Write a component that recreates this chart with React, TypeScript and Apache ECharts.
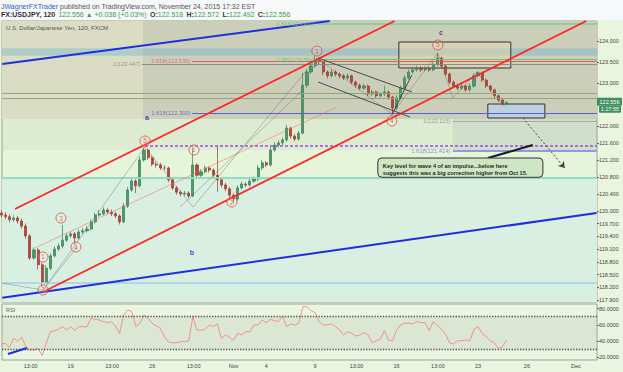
import React, { useEffect, useRef } from 'react';
import * as echarts from 'echarts';

// ---------- time scale: trading days counted from Mon 19 Oct 2015 00:00 ----------
const candleStartDay = -4.25;
const candleStepDays = 0.25; // 6-hour candles

const opens = [
  119.95, 119.90, 119.86, 119.79, 119.83, 119.76, 119.64, 119.41, 118.89, 119.08,
  118.73, 118.32, 118.65, 118.94, 119.10, 119.17, 119.31, 119.41, 119.46, 119.36,
  119.50, 119.53, 119.57, 119.74, 119.90, 119.93, 120.02, 119.97, 119.93, 119.88,
  119.74, 120.11, 120.49, 120.70, 120.59, 121.20, 121.43, 121.25, 121.10, 121.08,
  121.01, 121.01, 120.73, 120.54, 120.44, 120.40, 120.42, 120.35, 121.08, 120.84,
  120.92, 121.01, 120.96, 120.84, 120.73, 120.61, 120.52, 120.37, 120.28, 120.54,
  120.63, 120.61, 120.70, 120.75, 121.01, 121.13, 121.08, 121.43, 121.55, 121.60,
  121.67, 121.95, 121.76, 121.69, 121.83, 122.96, 123.27, 123.41, 123.55, 123.51,
  123.27, 123.18, 123.27, 123.22, 123.18, 123.13, 123.18, 123.03, 122.96, 122.89,
  122.94, 122.75, 122.80, 122.71, 122.75, 122.80, 122.68, 122.42, 122.66, 122.89,
  123.13, 123.27, 123.32, 123.36, 123.32, 123.34, 123.32, 123.44, 123.60, 123.41,
  123.22, 123.03, 122.94, 122.89, 122.94, 122.85, 122.94, 123.18, 123.25, 123.08,
  122.94, 122.85, 122.71, 122.61, 122.52,
];
const closes = [
  119.90, 119.86, 119.79, 119.83, 119.76, 119.64, 119.41, 118.89, 119.08, 118.73,
  118.32, 118.65, 118.94, 119.10, 119.17, 119.31, 119.41, 119.46, 119.36, 119.50,
  119.53, 119.57, 119.74, 119.90, 119.93, 120.02, 119.97, 119.93, 119.88, 119.74,
  120.11, 120.49, 120.70, 120.59, 121.20, 121.43, 121.25, 121.10, 121.08, 121.01,
  121.01, 120.73, 120.54, 120.44, 120.40, 120.42, 120.35, 121.08, 120.84, 120.92,
  121.01, 120.96, 120.84, 120.73, 120.61, 120.52, 120.37, 120.28, 120.54, 120.63,
  120.61, 120.70, 120.75, 121.01, 121.13, 121.08, 121.43, 121.55, 121.60, 121.67,
  121.95, 121.76, 121.69, 121.83, 122.96, 123.27, 123.41, 123.55, 123.51, 123.27,
  123.18, 123.27, 123.22, 123.18, 123.13, 123.18, 123.03, 122.96, 122.89, 122.94,
  122.75, 122.80, 122.71, 122.75, 122.80, 122.68, 122.42, 122.66, 122.89, 123.13,
  123.27, 123.32, 123.36, 123.32, 123.34, 123.32, 123.44, 123.60, 123.41, 123.22,
  123.03, 122.94, 122.89, 122.94, 122.85, 122.94, 123.18, 123.25, 123.08, 122.94,
  122.85, 122.71, 122.61, 122.52, 122.56,
];
const lows = [
  119.84, 119.80, 119.73, 119.74, 119.70, 119.58, 119.34, 118.84, 118.85, 118.62,
  118.21, 118.30, 118.60, 118.90, 119.05, 119.12, 119.27, 119.37, 119.20, 119.32,
  119.45, 119.49, 119.54, 119.70, 119.86, 119.89, 119.92, 119.88, 119.83, 119.68,
  119.71, 120.07, 120.45, 120.42, 120.55, 121.16, 121.20, 121.05, 121.02, 120.96,
  120.95, 120.68, 120.49, 120.38, 120.34, 120.35, 120.30, 120.32, 120.78, 120.80,
  120.88, 120.90, 120.79, 120.45, 120.55, 120.46, 120.31, 120.18, 120.24, 120.50,
  120.56, 120.57, 120.66, 120.70, 120.96, 121.03, 121.04, 121.39, 121.50, 121.55,
  121.63, 121.70, 121.64, 121.65, 121.80, 122.90, 123.22, 123.37, 123.45, 123.20,
  123.12, 123.14, 123.16, 123.12, 123.08, 123.09, 122.98, 122.90, 122.84, 122.85,
  122.70, 122.71, 122.66, 122.67, 122.71, 122.62, 122.28, 122.38, 122.62, 122.85,
  123.09, 123.23, 123.28, 123.27, 123.28, 123.27, 123.29, 123.40, 123.36, 123.17,
  122.98, 122.89, 122.84, 122.85, 122.80, 122.81, 122.90, 123.14, 123.03, 122.89,
  122.80, 122.66, 122.56, 122.49, 122.49,
];
const highs = [
  120.02, 119.97, 119.92, 119.90, 119.88, 119.82, 119.70, 119.45, 119.14, 119.12,
  118.78, 118.72, 119.00, 119.16, 119.24, 119.67, 119.48, 119.52, 119.50, 119.56,
  119.60, 119.64, 119.80, 119.96, 120.02, 120.08, 120.06, 120.03, 119.98, 119.92,
  120.18, 120.56, 120.76, 120.74, 121.28, 121.50, 121.46, 121.30, 121.16, 121.13,
  121.08, 121.04, 120.77, 120.58, 120.48, 120.47, 120.46, 121.48, 121.12, 120.98,
  121.07, 121.05, 121.00, 121.53, 120.78, 120.66, 120.56, 120.41, 120.60, 120.69,
  120.67, 120.76, 120.81, 121.08, 121.19, 121.17, 121.50, 121.61, 121.66, 121.73,
  122.02, 121.98, 121.80, 121.88, 123.25, 123.33, 123.47, 123.65, 123.60, 123.54,
  123.31, 123.33, 123.31, 123.26, 123.22, 123.23, 123.21, 123.07, 123.00, 122.99,
  122.97, 122.85, 122.83, 122.79, 122.94, 122.83, 122.71, 122.72, 122.95, 123.19,
  123.33, 123.38, 123.42, 123.40, 123.40, 123.38, 123.50, 123.72, 123.63, 123.45,
  123.26, 123.07, 122.98, 123.00, 122.97, 123.00, 123.24, 123.29, 123.27, 123.12,
  122.97, 122.88, 122.74, 122.64, 122.57,
];
const rsiValues = [
  36.2, 37.0, 32.1, 43.2, 39.9, 44.4, 32.9, 28.8, 28.8, 30.8,
  22.0, 37.0, 51.5, 52.7, 54.4, 57.7, 53.5, 57.7, 52.7, 57.7,
  57.7, 57.7, 68.0, 66.7, 65.9, 63.9, 62.6, 63.9, 58.5, 49.4,
  72.1, 78.3, 76.2, 57.7, 61.8, 72.1, 68.0, 61.8, 58.5, 55.6,
  45.3, 39.1, 37.8, 37.8, 39.1, 39.1, 40.3, 70.0, 53.5, 53.5,
  54.4, 59.7, 57.7, 61.0, 43.2, 47.3, 44.4, 41.1, 49.4, 47.3,
  51.5, 51.5, 59.7, 59.7, 65.9, 62.6, 66.7, 65.1, 63.9, 70.9,
  57.7, 61.0, 59.7, 61.8, 82.4, 82.4, 77.5, 75.0, 63.9, 59.7,
  59.7, 61.0, 57.7, 53.5, 47.3, 51.5, 49.4, 46.1, 47.3, 50.2,
  47.3, 37.8, 40.3, 42.0, 52.7, 41.1, 40.3, 53.5, 59.7, 61.8,
  61.8, 61.0, 63.9, 62.6, 62.6, 52.7, 63.9, 59.7, 54.4, 48.6,
  37.8, 36.2, 40.3, 40.3, 41.1, 40.3, 54.4, 57.7, 49.4, 45.3,
  40.3, 37.8, 30.8, 32.9, 41.1,
];

// ---------- axes ----------
const X_MIN = -4.215;
const X_MAX = 32.3;
const Y_MIN = 117.853;
const Y_MAX = 124.471;
const RSI_MIN = 16.4;
const RSI_MAX = 85.7;
const xTickDays = [-2.458, 0, 2.542, 5, 7.542, 10, 12, 15, 17.542, 20, 22.542, 25, 28, 31];
const xTickLabels = ['13:00', '19', '13:00', '26', '13:00', 'Nov', '4', '9', '13:00', '16', '13:00', '23', '26', 'Dec'];
const yTickValues = [124.0, 123.5, 123.0, 122.0, 121.6, 121.2, 120.8, 120.4, 120.0, 119.7, 119.4, 119.1, 118.8, 118.5, 118.2, 117.9];
const rsiTickValues = [20, 40, 60, 80];
const rsiBands = [30, 70];

// ---------- annotations (data units: day, price) ----------
const levelPrices = [120.773, 118.31, 122.775, 122.658, 123.447, 123.53, 123.564, 124.40, 122.3, 122.115, 121.414, 121.527];
const levelStartDays = [X_MIN, X_MIN, X_MIN, X_MIN, 4.38, 7.45, 15.11, 15.11, 7.45, 23.45, 23.45, 4.56];

const waveDays = [-1.70, -1.70, -0.595, 0.325, 4.558, 7.564, 9.896, 15.11, 19.71, 22.53];
const wavePrices = [118.136, 118.913, 119.831, 119.148, 121.645, 121.433, 120.208, 123.764, 122.116, 123.906];
const waveTexts = ['2', '1', '3', '4', '5', '1', '2', '3', '4', '5'];

const letterDays = [4.68, 7.44, 22.72];
const letterPrices = [122.21, 119.03, 124.19];
const letterTexts = ['a', 'b', 'c'];

const fibTexts = ['1(123.447)', '2.618(123.530)', '0.382(123.564)', '0.618(124.493)', '1.618(122.300)', '1(122.115)', '1.618(121.414)'];
const fibDays = [4.38, 7.45, 15.11, 15.11, 7.45, 23.4, 23.4];
const fibPrices = [123.447, 123.53, 123.564, 124.40, 122.3, 122.115, 121.414];

const boxA = [20.14, 123.364, 27.01, 123.976];
const boxB = [25.6, 122.187, 29.1, 122.516];
const calloutBox = [18.85, 121.244, 28.98, 120.79];
const calloutLines = ['Key level for wave 4 of an impulse...below here', 'suggests this was a big correction higher from Oct 15.'];
const lastPrice = 122.556;

const FONT = '"Liberation Sans", Arial, sans-serif';

export default function App() {
  const ref = useRef<HTMLDivElement>(null);

  useEffect(() => {
    const chart = echarts.init(ref.current!, null, { renderer: 'svg' });
    const n = Math.min(opens.length, closes.length, lows.length, highs.length);
    const candleData: number[][] = [];
    for (let i = 0; i < n; i++) {
      candleData.push([candleStartDay + i * candleStepDays, opens[i], closes[i], lows[i], highs[i]]);
    }
    const rsiData = rsiValues.map((v, i) => [candleStartDay + i * candleStepDays, v]);

    const seg = (a: number[], b: number[], style: any, extraEnd?: any) => [
      { coord: a, symbol: 'none' },
      Object.assign({ coord: b, symbol: 'none', lineStyle: style }, extraEnd || {}),
    ];

    const levelStyles = [
      { color: '#97dbbd', width: 2 },
      { color: '#9fd0e6', width: 1.5 },
      { color: '#93a677', width: 1 },
      { color: '#93a677', width: 1 },
      { color: '#8c8c8c', width: 1 },
      { color: '#e45858', width: 1 },
      { color: '#6cc27f', width: 1 },
      { color: '#7ccf92', width: 1.5 },
      { color: '#5563d2', width: 1 },
      { color: '#a6a6a6', width: 1 },
      { color: '#8c9be0', width: 2 },
      { color: '#9b4ee8', width: 1.5, type: [3, 2] },
    ];
    const levelLines = levelPrices.map((p, i) =>
      seg([levelStartDays[i], p], [X_MAX, p], Object.assign({ type: 'solid' }, levelStyles[i])),
    );

    const blue = { color: '#1f2fe0', width: 2, type: 'solid' };
    const red = { color: '#ff2626', width: 1.8, type: 'solid' };
    const gray = { color: 'rgba(90,90,90,0.45)', width: 0.8, type: 'solid' };
    const dark = { color: '#4a4a4a', width: 1, type: 'solid' };

    const trendLines = [
      seg([-4.2, 123.458], [15.9, 124.47], blue),
      seg([-4.2, 117.955], [32.28, 119.949], blue),
      seg([-3.417, 120.043], [19.88, 124.47], red),
      seg([-1.699, 118.089], [31.64, 124.47], red),
      seg([-2.19, 119.125], [16.34, 122.446], { color: 'rgba(235,120,100,0.55)', width: 1, type: 'solid' }),
      seg([15.18, 123.6], [20.94, 122.8], dark),
      seg([15.18, 123.034], [20.82, 122.21], dark),
      seg([19.71, 122.257], [20.94, 123.199], dark),
      seg([-4.2, 118.294], [-1.7, 118.136], gray),
      seg([-1.7, 118.136], [4.56, 121.504], gray),
      seg([-1.7, 118.136], [0.39, 119.148], gray),
      seg([4.56, 121.504], [7.51, 120.09], gray),
      seg([7.51, 120.09], [15.11, 123.6], gray),
      seg([6.72, 120.09], [14.25, 122.846], gray),
      seg([15.11, 123.6], [19.71, 122.281], gray),
      seg([19.71, 122.281], [22.53, 123.717], gray),
      seg([22.53, 123.717], [23.45, 122.658], gray),
      seg([23.45, 122.658], [24.93, 123.27], gray),
      seg([24.93, 123.27], [26.64, 122.446], gray),
      seg([25.6, 121.244], [28.36, 121.55], { color: '#1a1a1a', width: 2, type: 'solid' }),
      seg([27.75, 122.187], [30.32, 121.009], { color: '#444', width: 1, type: [2, 2] }, { symbol: 'arrow', symbolSize: 6 }),
    ];

    const zoneArea = (x1: number, y1: number, x2: number, y2: number, color: string) => [
      { coord: [x1, y1], itemStyle: { color } },
      { coord: [x2, y2] },
    ];
    const zones = [
      zoneArea(X_MIN, Y_MIN, X_MAX, 120.773, '#d9efe2'),
      zoneArea(X_MIN, 121.43, X_MAX, 122.163, 'rgba(150,165,150,0.10)'),
      zoneArea(X_MIN, 122.163, X_MAX, Y_MAX, '#dadcc3'),
      zoneArea(4.44, 122.163, X_MAX, Y_MAX, 'rgba(110,120,135,0.13)'),
      zoneArea(X_MIN, 123.65, X_MAX, 123.83, 'rgba(120,180,205,0.42)'),
      zoneArea(23.45, 121.43, X_MAX, 122.163, 'rgba(140,150,165,0.14)'),
    ];
    const boxes = [
      [
        { coord: [boxA[0], boxA[1]], itemStyle: { color: 'rgba(232,216,168,0.45)', borderColor: '#333', borderWidth: 1 } },
        { coord: [boxA[2], boxA[3]] },
      ],
      [
        { coord: [boxB[0], boxB[1]], itemStyle: { color: 'rgba(185,208,232,0.75)', borderColor: '#333', borderWidth: 1 } },
        { coord: [boxB[2], boxB[3]] },
      ],
    ];

    const fibColors = ['#8a8a8a', '#e05555', '#5fb873', '#5fb873', '#4a5ad0', '#8a8a8a', '#6a7ad8'];
    const noLine = { show: false, onZero: false };

    const option: any = {
      animation: false,
      backgroundColor: 'transparent',
      textStyle: { fontFamily: FONT },
      grid: [
        { left: 2, top: 21, width: 595, height: 281, show: true, backgroundColor: '#e6f4d9', borderColor: '#9aa39a', borderWidth: 1 },
        { left: 2, top: 304, width: 595, height: 56, show: true, backgroundColor: '#eaf6df', borderColor: '#9aa39a', borderWidth: 1 },
      ],
      xAxis: [
        { type: 'value', gridIndex: 0, min: X_MIN, max: X_MAX, axisLine: noLine, axisTick: { show: false }, axisLabel: { show: false }, splitLine: { show: false } },
        {
          type: 'value', gridIndex: 1, min: X_MIN, max: X_MAX, position: 'bottom',
          axisLine: noLine, axisTick: { show: false }, splitLine: { show: false },
          axisLabel: {
            show: true, customValues: xTickDays, fontSize: 5.5, color: '#444', margin: 3, fontFamily: FONT,
            formatter: (v: number) => {
              const idx = xTickDays.findIndex((d) => Math.abs(d - v) < 1e-6);
              return idx >= 0 ? xTickLabels[idx] : '';
            },
          },
        },
      ],
      yAxis: [
        {
          type: 'value', gridIndex: 0, position: 'right', min: Y_MIN, max: Y_MAX,
          axisLine: noLine, splitLine: { show: false },
          axisTick: { show: true, customValues: yTickValues, length: 2, lineStyle: { color: '#666' } },
          axisLabel: { customValues: yTickValues, formatter: (v: number) => v.toFixed(3), fontSize: 5.5, color: '#444', margin: 2, fontFamily: FONT },
        },
        {
          type: 'value', gridIndex: 1, position: 'right', min: RSI_MIN, max: RSI_MAX,
          axisLine: noLine, splitLine: { show: false },
          axisTick: { show: true, customValues: rsiTickValues, length: 2, lineStyle: { color: '#666' } },
          axisLabel: { customValues: rsiTickValues, formatter: (v: number) => v.toFixed(4), fontSize: 5.5, color: '#444', margin: 2, fontFamily: FONT },
        },
      ],
      series: [
        {
          name: 'zones', type: 'line', xAxisIndex: 0, yAxisIndex: 0, data: [], silent: true,
          markArea: { silent: true, z: 1, data: zones },
        },
        {
          name: 'boxes', type: 'line', xAxisIndex: 0, yAxisIndex: 0, data: [], silent: true,
          markArea: { silent: true, z: 1.5, data: boxes },
        },
        {
          name: 'USDJPY', type: 'candlestick', xAxisIndex: 0, yAxisIndex: 0, z: 2,
          encode: { x: 0, y: [1, 2, 3, 4] },
          data: candleData, barWidth: 2.6,
          itemStyle: { color: '#4b9a6a', color0: '#b4473b', borderColor: '#3a7d55', borderColor0: '#9a3a30', borderWidth: 0.7 },
        },
        {
          name: 'levels', type: 'line', xAxisIndex: 0, yAxisIndex: 0, data: [], silent: true,
          markLine: { silent: true, z: 3, symbol: ['none', 'none'], label: { show: false }, data: levelLines.concat(trendLines) },
        },
        {
          name: 'waves', type: 'scatter', xAxisIndex: 0, yAxisIndex: 0, z: 6, silent: true,
          symbol: 'circle', symbolSize: 10,
          itemStyle: { color: 'rgba(255,255,255,0.15)', borderColor: '#e0453a', borderWidth: 1 },
          label: { show: true, position: 'inside', color: '#e0453a', fontSize: 6.5, fontFamily: FONT },
          data: waveDays.map((d, i) => ({ value: [d, wavePrices[i]], label: { formatter: waveTexts[i] } })),
        },
        {
          name: 'letters', type: 'scatter', xAxisIndex: 0, yAxisIndex: 0, z: 6, silent: true,
          symbolSize: 1, itemStyle: { color: 'rgba(0,0,0,0)' },
          label: { show: true, position: 'inside', color: '#2222b8', fontSize: 7, fontWeight: 'bold', fontFamily: FONT },
          data: letterDays.map((d, i) => ({ value: [d, letterPrices[i]], label: { formatter: letterTexts[i] } })),
        },
        {
          name: 'fibLabels', type: 'scatter', xAxisIndex: 0, yAxisIndex: 0, z: 6, silent: true,
          symbolSize: 1, itemStyle: { color: 'rgba(0,0,0,0)' },
          label: { show: true, position: 'left', distance: 1, fontSize: 5.8, fontFamily: FONT },
          data: fibDays.map((d, i) => ({ value: [d, fibPrices[i]], label: { formatter: fibTexts[i], color: fibColors[i] } })),
        },
        {
          name: 'RSI', type: 'line', xAxisIndex: 1, yAxisIndex: 1, data: rsiData, symbol: 'none', z: 3,
          lineStyle: { color: '#ee8a88', width: 0.9 },
          markArea: {
            silent: true, z: 1,
            data: [[{ coord: [X_MIN, rsiBands[0]], itemStyle: { color: 'rgba(170,175,170,0.22)' } }, { coord: [X_MAX, rsiBands[1]] }]],
          },
          markLine: {
            silent: true, symbol: ['none', 'none'], label: { show: false },
            data: [
              { yAxis: rsiBands[1], lineStyle: { color: '#555', width: 1.4, type: 'dotted' } },
              { yAxis: rsiBands[0], lineStyle: { color: '#555', width: 1.4, type: 'dotted' } },
              [{ coord: [-3.85, 23.8] }, { coord: [-2.68, 31.2], lineStyle: { color: '#1f2fe0', width: 2, type: 'solid' } }],
            ],
          },
        },
      ],
    };
    chart.setOption(option);

    const px = (d: number, p: number) => chart.convertToPixel({ xAxisIndex: 0, yAxisIndex: 0 }, [d, p]) as number[];
    const c1 = px(calloutBox[0], calloutBox[1]);
    const c2 = px(calloutBox[2], calloutBox[3]);
    const lp = px(0, lastPrice);

    chart.setOption({
      graphic: [
        {
          type: 'text', x: 1, y: 6, z: 100, silent: true,
          style: {
            text: '{a|JWagnerFXTrader}{b| published on TradingView.com, November 24, 2015 17:32 EST}',
            textVerticalAlign: 'middle',
            rich: {
              a: { fill: '#2b63c9', fontSize: 7, fontFamily: FONT },
              b: { fill: '#555', fontSize: 7, fontFamily: FONT },
            },
          },
        },
        {
          type: 'text', x: 1, y: 14.5, z: 100, silent: true,
          style: {
            text: '{k|FX:USDJPY, 120} {g|122.556 ▲ +0.038 (+0.03%)} {k|O:}{g|122.518} {k|H:}{g|122.572} {k|L:}{g|122.492} {k|C:}{g|122.556}',
            textVerticalAlign: 'middle',
            rich: {
              k: { fill: '#333', fontSize: 7, fontWeight: 'bold', fontFamily: FONT },
              g: { fill: '#36a046', fontSize: 7, fontFamily: FONT },
            },
          },
        },
        {
          type: 'text', x: 6, y: 28, z: 100, silent: true,
          style: { text: 'U.S. Dollar/Japanese Yen, 120, FXCM', fill: '#555', fontSize: 6, fontFamily: FONT, textVerticalAlign: 'middle' },
        },
        {
          type: 'text', x: 6, y: 310, z: 100, silent: true,
          style: { text: 'RSI', fill: '#666', fontSize: 5.5, fontFamily: FONT, textVerticalAlign: 'middle' },
        },
        {
          type: 'rect', z: 100, silent: true,
          shape: { x: c1[0], y: c1[1], width: c2[0] - c1[0], height: c2[1] - c1[1], r: 4 },
          style: { fill: '#cfe6c4', stroke: '#333', lineWidth: 1 },
        },
        {
          type: 'text', x: c1[0] + 5, y: c1[1] + 4, z: 101, silent: true,
          style: {
            text: calloutLines.join('\n'), fill: '#1e2b1e', fontSize: 5.6, fontWeight: 'bold',
            fontFamily: FONT, lineHeight: 7.5, textVerticalAlign: 'top',
          },
        },
        {
          type: 'rect', z: 100, silent: true,
          shape: { x: 597, y: lp[1] - 4.5, width: 25, height: 8, r: 1 },
          style: { fill: '#3f8f60' },
        },
        {
          type: 'text', x: 609.5, y: lp[1] - 0.5, z: 101, silent: true,
          style: { text: lastPrice.toFixed(3), fill: '#fff', fontSize: 5.5, fontFamily: FONT, textAlign: 'center', textVerticalAlign: 'middle' },
        },
        {
          type: 'rect', z: 100, silent: true,
          shape: { x: 599, y: lp[1] + 3.5, width: 22, height: 7, r: 1 },
          style: { fill: '#3f8f60' },
        },
        {
          type: 'text', x: 610, y: lp[1] + 7, z: 101, silent: true,
          style: { text: '1:27:55', fill: '#fff', fontSize: 5.5, fontFamily: FONT, textAlign: 'center', textVerticalAlign: 'middle' },
        },
      ],
    });

    return () => chart.dispose();
  }, []);

  return (
    <div
      ref={ref}
      style={{
        position: 'fixed', left: 0, top: 0, width: 623, height: 372,
        background: 'linear-gradient(#f6f8f9 0px, #f6f8f9 20px, #e9f5de 20px)',
      }}
    />
  );
}
